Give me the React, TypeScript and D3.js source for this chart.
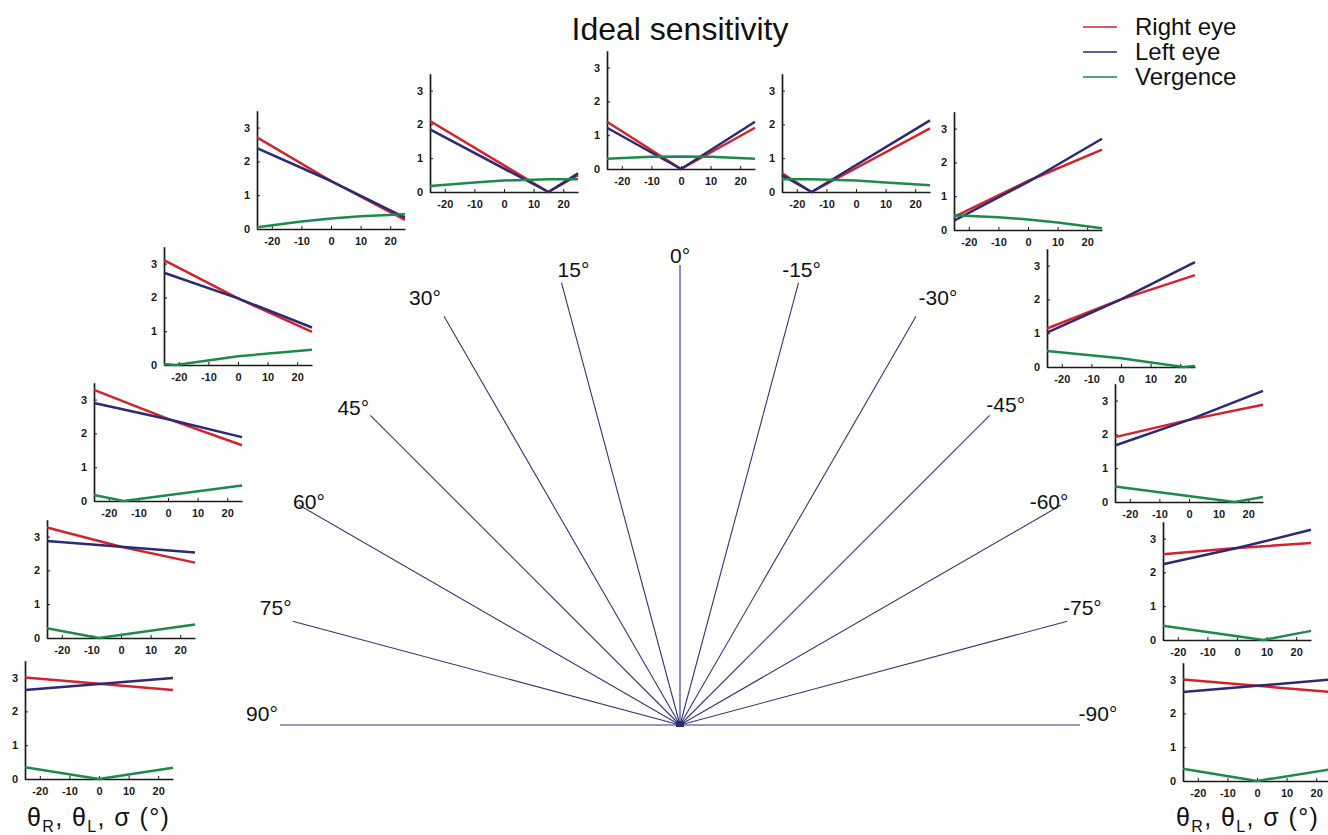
import React, { useRef, useEffect } from "react";
import { select, scaleLinear, axisBottom, axisLeft, line } from "d3";

// gaze directions of the small panels, left to right
const panelAngles = [90, 75, 60, 45, 30, 15, 0, -15, -30, -45, -60, -75, -90];

// [x, sensitivity] points
const rightEye = [
  [[-25, 3.0], [25, 2.63]],
  [[-25, 3.27], [0, 2.7], [25, 2.23]],
  [[-25, 3.29], [0, 2.43], [25, 1.65]],
  [[-25, 3.1], [0, 1.97], [25, 0.98]],
  [[-25, 2.71], [0, 1.42], [25, 0.27]],
  [[-25, 2.1], [15, 0], [25, 0.5]],
  [[-25, 1.4], [0, 0], [25, 1.22]],
  [[-25, 0.55], [-15, 0], [25, 1.88]],
  [[-25, 0.39], [0, 1.45], [25, 2.38]],
  [[-25, 1.14], [0, 2.0], [25, 2.72]],
  [[-25, 1.92], [0, 2.43], [25, 2.88]],
  [[-25, 2.54], [0, 2.72], [25, 2.87]],
  [[-25, 3.0], [25, 2.63]],
];

const leftEye = [
  [[-25, 2.63], [25, 2.99]],
  [[-25, 2.87], [25, 2.53]],
  [[-25, 2.9], [0, 2.42], [25, 1.89]],
  [[-25, 2.73], [0, 1.97], [25, 1.11]],
  [[-25, 2.39], [0, 1.42], [25, 0.34]],
  [[-25, 1.85], [15, 0], [25, 0.55]],
  [[-25, 1.22], [0, 0], [25, 1.4]],
  [[-25, 0.5], [-15, 0], [25, 2.12]],
  [[-25, 0.28], [0, 1.42], [25, 2.7]],
  [[-25, 1.02], [0, 2.0], [25, 3.1]],
  [[-25, 1.67], [0, 2.43], [25, 3.29]],
  [[-25, 2.24], [0, 2.72], [25, 3.26]],
  [[-25, 2.63], [25, 3.0]],
];

const vergence = [
  [[-25, 0.35], [0, 0], [25, 0.33]],
  [[-25, 0.29], [-7.5, 0], [25, 0.4]],
  [[-25, 0.18], [-15, 0], [25, 0.46]],
  [[-25, 0.03], [-21, 0], [0, 0.26], [25, 0.45]],
  [[-25, 0.05], [-10, 0.22], [0, 0.31], [10, 0.38], [25, 0.44]],
  [[-25, 0.18], [-10, 0.28], [0, 0.34], [15, 0.38], [25, 0.38]],
  [[-25, 0.3], [-10, 0.36], [0, 0.37], [10, 0.36], [25, 0.3]],
  [[-25, 0.38], [-15, 0.38], [0, 0.34], [10, 0.28], [25, 0.2]],
  [[-25, 0.44], [-10, 0.38], [0, 0.31], [10, 0.22], [25, 0.05]],
  [[-25, 0.47], [0, 0.26], [21, 0], [25, 0.03]],
  [[-25, 0.46], [15.4, 0], [25, 0.15]],
  [[-25, 0.42], [9, 0], [25, 0.27]],
  [[-25, 0.36], [0, 0], [25, 0.35]],
];

const xTicks = [-20, -10, 0, 10, 20];
const yTicks = [0, 1, 2, 3];

// fan of gaze directions in the middle
const rayAngles = [90, 75, 60, 45, 30, 15, 0, -15, -30, -45, -60, -75, -90];
const rayLengths = [400, 401, 440, 438, 472, 458, 460, 458, 472, 438, 440, 401, 400];
const legendLabels = ["Right eye", "Left eye", "Vergence"];

// layout: where each panel's origin (x=-25, y=0) sits
const panelOrigin = [
  [25, 779], [47, 638], [94, 501], [164, 365], [257, 229], [430, 192], [607, 169],
  [782, 192], [954, 230], [1047, 367], [1115, 502], [1163, 640], [1183, 781],
];
const labelOffset = [
  [-18, -10], [-17, -12], [10, -2], [-17, -6], [-19, -17], [12, -11], [0, -8],
  [3, -11], [22, -17], [16, -9], [-12, -2], [15, -12], [18, -10],
];

const RED = "#d3222e";
const BLUE = "#2b2a72";
const GREEN = "#1b8a4c";
const colors = [RED, BLUE, GREEN];
const FONT = "'Liberation Sans', Arial, Helvetica, sans-serif";

const PW = 148; // panel width
const UNIT = 33.8; // px per sensitivity unit

const App = () => {
  const svgRef = useRef(null);

  useEffect(() => {
    const svg = select(svgRef.current);
    svg.selectAll(".panel").remove();

    panelAngles.forEach((a, i) => {
      const [ox, oy] = panelOrigin[i];
      const x = scaleLinear().domain([-25, 25]).range([ox, ox + PW]);
      const y = scaleLinear().domain([0, 3.5]).range([oy, oy - 3.5 * UNIT]);
      const g = svg.append("g").attr("class", "panel");

      const xa = g
        .append("g")
        .attr("transform", `translate(0,${oy})`)
        .call(
          axisBottom(x)
            .tickValues(xTicks)
            .tickFormat((d) => String(d))
            .tickSizeInner(-3)
            .tickSizeOuter(0)
            .tickPadding(8)
        );
      const ya = g
        .append("g")
        .attr("transform", `translate(${ox},0)`)
        .call(
          axisLeft(y)
            .tickValues(yTicks)
            .tickFormat((d) => String(d))
            .tickSizeInner(-3)
            .tickSizeOuter(0)
            .tickPadding(7)
        );

      [xa, ya].forEach((ax) => {
        ax.select(".domain").attr("stroke", "#1a1a1a").attr("stroke-width", 1.7);
        ax.selectAll(".tick line").attr("stroke", "#1a1a1a").attr("stroke-width", 1);
        ax.selectAll("text")
          .attr("fill", "#1a1a1a")
          .style("font-family", FONT)
          .style("font-weight", "bold")
          .style("font-size", "11px");
      });

      const lineGen = line()
        .x((d) => x(d[0]))
        .y((d) => y(d[1]));

      [rightEye[i], leftEye[i], vergence[i]].forEach((pts, k) => {
        g.append("path")
          .attr("d", lineGen(pts))
          .attr("fill", "none")
          .attr("stroke", colors[k])
          .attr("stroke-width", 2.5)
          .attr("stroke-linejoin", "round");
      });
    });
  }, []);

  const cx = 680;
  const cy = 725;

  return (
    <svg
      ref={svgRef}
      width={1328}
      height={835}
      style={{ position: "absolute", left: 0, top: 0, background: "#fff" }}
      fontFamily={FONT}
    >
      <text x={680} y={40} textAnchor="middle" fontSize={32} fill="#111">
        Ideal sensitivity
      </text>

      {rayAngles.map((a, i) => {
        const r = (a * Math.PI) / 180;
        const ex = cx - Math.sin(r) * rayLengths[i];
        const ey = cy - Math.cos(r) * rayLengths[i];
        return (
          <g key={a}>
            <line x1={cx} y1={cy} x2={ex} y2={ey} stroke="#33337a" strokeWidth={1.1} />
            <text
              x={ex + labelOffset[i][0]}
              y={ey + labelOffset[i][1]}
              textAnchor="middle"
              dominantBaseline="middle"
              fontSize={21}
              fill="#111"
            >
              {a}°
            </text>
          </g>
        );
      })}
      <rect x={cx - 4} y={cy - 4} width={8} height={6} fill="#2b2a72" />

      {legendLabels.map((lab, i) => (
        <g key={lab}>
          <line x1={1083} x2={1117} y1={27 + i * 25} y2={27 + i * 25} stroke={colors[i]} strokeWidth={1.4} />
          <text x={1135} y={35 + i * 25} fontSize={24} fill="#111">
            {lab}
          </text>
        </g>
      ))}

      {[27, 1176].map((lx) => (
        <text key={lx} x={lx} y={826} fontSize={25} fill="#111" letterSpacing={1.4}>
          θ<tspan fontSize={16} dy={6}>R</tspan>
          <tspan dy={-6}>, θ</tspan>
          <tspan fontSize={16} dy={6}>L</tspan>
          <tspan dy={-6}>, σ (°)</tspan>
        </text>
      ))}
    </svg>
  );
};

export default App;
